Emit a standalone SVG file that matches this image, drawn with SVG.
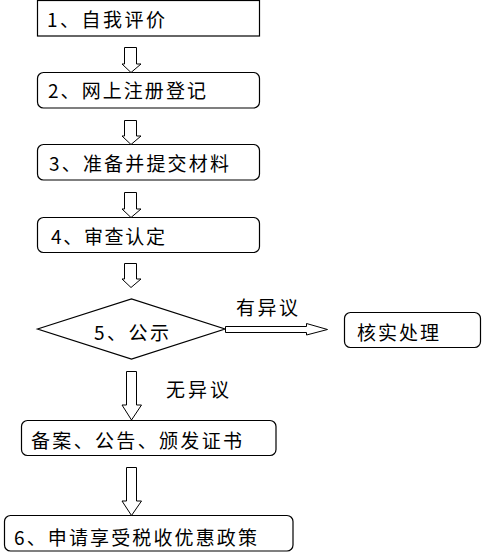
<svg xmlns="http://www.w3.org/2000/svg" width="482" height="552" viewBox="0 0 482 552">
<style>
.box{fill:#fff;stroke:#000;stroke-width:1.2}
.arr{fill:#fff;stroke:#000;stroke-width:1}
text{font-family:"Noto Sans CJK SC","Liberation Sans",sans-serif;font-size:19px;fill:#000}
</style>
<rect width="482" height="552" fill="#fff"/>
<g id="n1"><rect class="box" x="37.5" y="0.5" width="222" height="35.5"/><text x="47" y="27" textLength="118">1、自我评价</text></g>
<g id="n2"><rect class="box" x="37.5" y="72.5" width="222" height="35.5" rx="6"/><text x="48" y="98" textLength="158">2、网上注册登记</text></g>
<g id="n3"><rect class="box" x="37.5" y="144.5" width="222" height="35.5" rx="6"/><text x="49" y="171" textLength="180">3、准备并提交材料</text></g>
<g id="n4"><rect class="box" x="37.5" y="217.5" width="222" height="35" rx="6"/><text x="51" y="244" textLength="114">4、审查认定</text></g>
<g id="n5"><polygon class="box" points="37.5,329 131.5,299 225,329 131.5,359"/><text x="94" y="340" textLength="75">5、公示</text></g>
<g id="n6"><rect class="box" x="344.5" y="312.5" width="136" height="35" rx="6"/><text x="357" y="340" textLength="82">核实处理</text></g>
<g id="n7"><rect class="box" x="21.5" y="420.5" width="254.5" height="35" rx="6"/><text x="31" y="448" textLength="211">备案、公告、颁发证书</text></g>
<g id="n8"><rect class="box" x="4.5" y="515.5" width="288.5" height="35.5" rx="6"/><text x="14" y="545" textLength="243">6、申请享受税收优惠政策</text></g>
<g id="connectors">
<polygon class="arr" points="124.5,47.5 136.5,47.5 136.5,64 141,64 131,72.5 122,64 124.5,64"/>
<polygon class="arr" points="124.5,120.5 136.5,120.5 136.5,136 141,136 131,144.5 122,136 124.5,136"/>
<polygon class="arr" points="124.5,192.5 136.5,192.5 136.5,209 141,209 131,217.5 122,209 124.5,209"/>
<polygon class="arr" points="124.5,263.5 136.5,263.5 136.5,279 141,279 131,287.5 122,279 124.5,279"/>
<polygon class="arr" points="225.5,326.5 306.5,326.5 306.5,323.5 327.5,329.5 306.5,335 306.5,332.5 225.5,332.5"/>
<polygon class="arr" points="126.5,371.5 136.5,371.5 136.5,405 141.5,405 131.5,420 122,405 126.5,405"/>
<polygon class="arr" points="126.5,467.5 136.5,467.5 136.5,501 141.5,501 131.5,515.5 122,501 126.5,501"/>
<text x="236" y="315" textLength="62">有异议</text>
<text x="166" y="397" textLength="63">无异议</text>
</g>
</svg>
